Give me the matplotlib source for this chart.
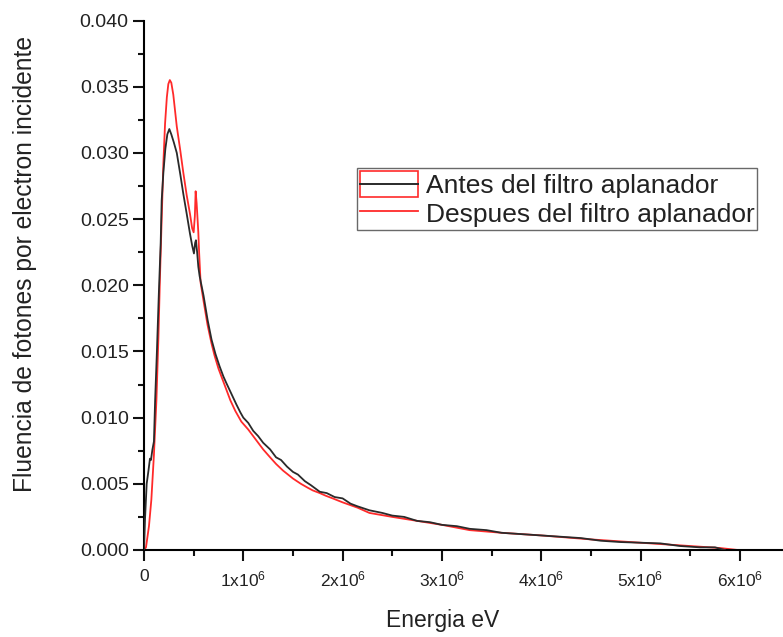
import matplotlib
matplotlib.use("Agg")
import matplotlib.pyplot as plt
from matplotlib.lines import Line2D
from matplotlib.patches import Rectangle
from matplotlib.legend_handler import HandlerBase
from matplotlib.ticker import MultipleLocator, FuncFormatter

plt.rcParams['font.family'] = ['Liberation Sans', 'DejaVu Sans']
plt.rcParams['mathtext.default'] = 'regular'

# Photon fluence per incident electron vs energy (energies in MeV, scaled to eV when drawn)
energy_before = [0.000, 0.010, 0.027, 0.045, 0.060, 0.070, 0.085, 0.100, 0.112, 0.130,
                 0.150, 0.168, 0.178, 0.195, 0.215, 0.235, 0.255, 0.275, 0.300, 0.330,
                 0.365, 0.396, 0.430, 0.463, 0.485, 0.503, 0.515, 0.523, 0.535, 0.547,
                 0.560, 0.600, 0.640, 0.680, 0.720, 0.760, 0.800, 0.830, 0.880, 0.930,
                 0.970, 1.000, 1.050, 1.100, 1.150, 1.200, 1.270, 1.330, 1.380, 1.440,
                 1.500, 1.550, 1.620, 1.680, 1.770, 1.840, 1.920, 2.000, 2.080, 2.150,
                 2.270, 2.400, 2.500, 2.620, 2.750, 2.880, 3.000, 3.150, 3.280, 3.450,
                 3.600, 3.800, 4.000, 4.200, 4.400, 4.600, 4.800, 5.000, 5.200, 5.400,
                 5.600, 5.750, 5.850]
fluence_before = [0.0000, 0.0023, 0.0050, 0.0060, 0.0069, 0.0068, 0.0076, 0.0082, 0.0113, 0.0150,
                  0.0195, 0.0232, 0.0264, 0.0285, 0.0303, 0.0314, 0.0318, 0.0314, 0.0308, 0.0300,
                  0.0284, 0.0269, 0.0254, 0.0239, 0.0230, 0.0224, 0.0232, 0.0234, 0.0225, 0.0214,
                  0.0207, 0.0192, 0.0174, 0.0159, 0.0148, 0.0139, 0.0131, 0.0126, 0.0118, 0.0110,
                  0.0104, 0.0100, 0.0096, 0.0090, 0.0086, 0.0081, 0.0076, 0.0070, 0.0068, 0.0063,
                  0.0059, 0.0057, 0.0052, 0.0049, 0.0044, 0.0043, 0.0040, 0.0039, 0.0035, 0.0033,
                  0.0030, 0.0028, 0.0026, 0.0025, 0.0022, 0.0021, 0.0019, 0.0018, 0.0016, 0.0015,
                  0.0013, 0.0012, 0.0011, 0.0010, 0.0009, 0.0007, 0.0006, 0.00055, 0.0005, 0.0003,
                  0.0002, 0.0002, 0.0000]

energy_after = [0.000, 0.020, 0.050, 0.074, 0.100, 0.125, 0.145, 0.160, 0.178, 0.195,
                0.212, 0.230, 0.245, 0.260, 0.275, 0.295, 0.330, 0.365, 0.396, 0.430,
                0.463, 0.485, 0.500, 0.512, 0.520, 0.530, 0.547, 0.555, 0.570, 0.600,
                0.640, 0.680, 0.710, 0.750, 0.790, 0.830, 0.870, 0.920, 0.980, 1.050,
                1.100, 1.150, 1.200, 1.270, 1.330, 1.400, 1.450, 1.500, 1.580, 1.650,
                1.700, 1.770, 1.830, 1.900, 2.000, 2.150, 2.270, 2.500, 2.750, 3.000,
                3.280, 3.600, 4.000, 4.500, 5.000, 5.500, 5.800, 5.980]
fluence_after = [0.0000, 0.0002, 0.0018, 0.0038, 0.0072, 0.0113, 0.0160, 0.0204, 0.0250, 0.0292,
                 0.0322, 0.0342, 0.0352, 0.0355, 0.0353, 0.0344, 0.0320, 0.0302, 0.0285, 0.0268,
                 0.0254, 0.0243, 0.0240, 0.0252, 0.0271, 0.0262, 0.0240, 0.0225, 0.0202, 0.0188,
                 0.0170, 0.0156, 0.0147, 0.0137, 0.0129, 0.0121, 0.0113, 0.0105, 0.0097, 0.0091,
                 0.0086, 0.0081, 0.0076, 0.0070, 0.0065, 0.0060, 0.0057, 0.0054, 0.0050, 0.0047,
                 0.0045, 0.0043, 0.0041, 0.0039, 0.0036, 0.0032, 0.0028, 0.0025, 0.0022, 0.0019,
                 0.0015, 0.0013, 0.0011, 0.0008, 0.00055, 0.0003, 0.00015, 0.0000]

label_before = "Antes del filtro aplanador"
label_after = "Despues del filtro aplanador"
x_ticks = [0, 1e6, 2e6, 3e6, 4e6, 5e6, 6e6]

color_before = "#2a2a2a"
color_after = "#ff2a2a"

W, H = 783, 637
fig = plt.figure(figsize=(W / 100, H / 100), dpi=100)
ax = fig.add_axes([144 / W, 87 / H, 639 / W, 529.5 / H])

ax.plot([e * 1e6 for e in energy_before], fluence_before, color=color_before, lw=1.3, zorder=3)
ax.plot([e * 1e6 for e in energy_after], fluence_after, color=color_after, lw=1.3, zorder=2)

ax.set_xlim(0, 639 / 99.3 * 1e6)
ax.set_ylim(0, 0.040)

for side in ("top", "right"):
    ax.spines[side].set_visible(False)
for side in ("left", "bottom"):
    ax.spines[side].set_linewidth(1.5)

ax.set_xticks(x_ticks)
ax.xaxis.set_minor_locator(MultipleLocator(0.5e6))
ax.yaxis.set_major_locator(MultipleLocator(0.005))
ax.yaxis.set_minor_locator(MultipleLocator(0.0025))


def fmt_x(v, pos):
    if v == 0:
        return "0"
    return r"%dx10$^{\mathregular{6}}$" % round(v / 1e6)


ax.xaxis.set_major_formatter(FuncFormatter(fmt_x))
ax.yaxis.set_major_formatter(FuncFormatter(lambda v, p: "%.3f" % v))

ax.tick_params(which="major", direction="out", length=8, width=1.5, color="#111111")
ax.tick_params(which="minor", direction="out", length=4.5, width=1.5, color="#111111")
ax.tick_params(axis="y", which="major", labelsize=14, pad=3, labelcolor="#222222")
ax.tick_params(axis="x", which="major", labelsize=12.5, pad=6, labelcolor="#222222")

ax.set_xlabel("Energia eV", fontsize=16.5, color="#222222")
ax.set_ylabel("Fluencia de fotones por electron incidente", fontsize=17.7, color="#222222")
ax.xaxis.set_label_coords(0.468, -0.111)
ax.yaxis.set_label_coords(-0.1675, 0.540)


class BoxedLineHandler(HandlerBase):
    """Legend key: a line inside an outlined box."""

    def create_artists(self, legend, orig_handle, xdescent, ydescent, width, height,
                       fontsize, trans):
        cy = -ydescent + height / 2
        box = Rectangle((-xdescent, -ydescent), width, height, facecolor="none",
                        edgecolor=color_after, lw=1.2, transform=trans)
        line = Line2D([-xdescent, -xdescent + width], [cy, cy], color=color_before,
                      lw=1.4, transform=trans)
        return [box, line]


h_before = Line2D([], [], color=color_before)
h_after = Line2D([], [], color=color_after, lw=1.3)
leg = ax.legend([h_before, h_after], [label_before, label_after],
                handler_map={h_before: BoxedLineHandler()},
                loc="upper left", bbox_to_anchor=(357 / W, 1 - 168 / H),
                bbox_transform=fig.transFigure, borderaxespad=0,
                fontsize=19, frameon=True, fancybox=False, borderpad=0.1,
                handlelength=2.2, handleheight=1.15, handletextpad=0.3,
                labelspacing=0.1)
leg.get_frame().set_edgecolor("#444444")
leg.get_frame().set_linewidth(1.0)
for t in leg.get_texts():
    t.set_color("#222222")

fig.savefig("out.png", dpi=100)
